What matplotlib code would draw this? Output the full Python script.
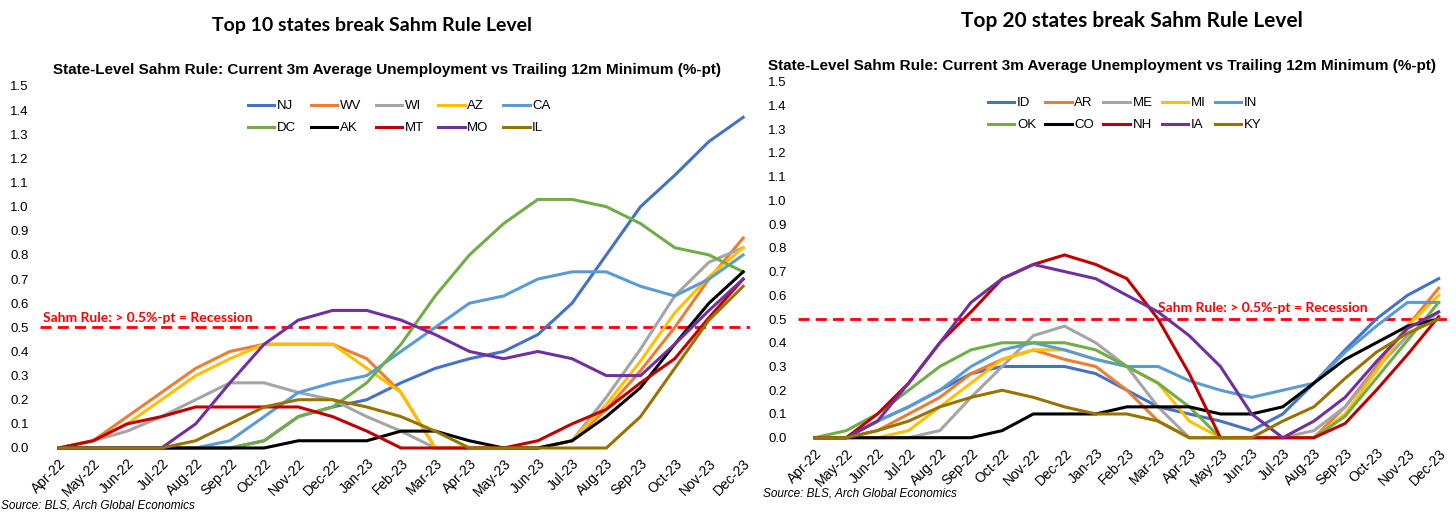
import matplotlib
matplotlib.use("Agg")
import matplotlib.pyplot as plt

# ─────────────────────────────────────────────────────────────────────────────
# Data (%-pt)
# ─────────────────────────────────────────────────────────────────────────────
months = ["Apr-22", "May-22", "Jun-22", "Jul-22", "Aug-22", "Sep-22", "Oct-22",
          "Nov-22", "Dec-22", "Jan-23", "Feb-23", "Mar-23", "Apr-23", "May-23",
          "Jun-23", "Jul-23", "Aug-23", "Sep-23", "Oct-23", "Nov-23", "Dec-23"]
yticks = [0.0, 0.1, 0.2, 0.3, 0.4, 0.5, 0.6, 0.7, 0.8, 0.9, 1.0, 1.1, 1.2, 1.3, 1.4, 1.5]
sahm_level = 0.5

# Top 10 states
nj = [0, 0, 0, 0, 0, 0, 0.03, 0.13, 0.17, 0.20, 0.27, 0.33, 0.37, 0.40, 0.47, 0.60, 0.80, 1.00, 1.13, 1.27, 1.37]
wv = [0, 0.03, 0.13, 0.23, 0.33, 0.40, 0.43, 0.43, 0.43, 0.37, 0.23, 0, 0, 0, 0, 0.03, 0.16, 0.32, 0.50, 0.70, 0.87]
wi = [0, 0.03, 0.07, 0.13, 0.20, 0.27, 0.27, 0.23, 0.20, 0.13, 0.07, 0, 0, 0, 0, 0.03, 0.21, 0.41, 0.63, 0.77, 0.83]
az = [0, 0.03, 0.10, 0.20, 0.30, 0.37, 0.43, 0.43, 0.43, 0.33, 0.23, 0, 0, 0, 0, 0.03, 0.18, 0.36, 0.56, 0.71, 0.83]
ca = [0, 0, 0, 0, 0, 0.03, 0.13, 0.23, 0.27, 0.30, 0.40, 0.50, 0.60, 0.63, 0.70, 0.73, 0.73, 0.67, 0.63, 0.70, 0.80]
dc = [0, 0, 0, 0, 0, 0, 0.03, 0.13, 0.17, 0.27, 0.43, 0.63, 0.80, 0.93, 1.03, 1.03, 1.00, 0.93, 0.83, 0.80, 0.73]
ak = [0, 0, 0, 0, 0, 0, 0, 0.03, 0.03, 0.03, 0.07, 0.07, 0.03, 0, 0, 0.03, 0.13, 0.25, 0.43, 0.60, 0.73]
mt = [0, 0.03, 0.10, 0.13, 0.17, 0.17, 0.17, 0.17, 0.13, 0.07, 0, 0, 0, 0, 0.03, 0.10, 0.16, 0.27, 0.37, 0.54, 0.70]
mo = [0, 0, 0, 0, 0.10, 0.27, 0.43, 0.53, 0.57, 0.57, 0.53, 0.47, 0.40, 0.37, 0.40, 0.37, 0.30, 0.30, 0.43, 0.57, 0.70]
il = [0, 0, 0, 0, 0.03, 0.10, 0.17, 0.20, 0.20, 0.17, 0.13, 0.07, 0, 0, 0, 0, 0, 0.13, 0.33, 0.53, 0.67]

# Top 20 states (next ten)
id_ = [0, 0, 0.07, 0.13, 0.20, 0.27, 0.30, 0.30, 0.30, 0.27, 0.20, 0.13, 0.10, 0.07, 0.03, 0.10, 0.23, 0.37, 0.50, 0.60, 0.67]
ar = [0, 0, 0.03, 0.10, 0.17, 0.27, 0.33, 0.37, 0.33, 0.30, 0.20, 0.07, 0, 0, 0, 0, 0, 0.13, 0.30, 0.47, 0.63]
me = [0, 0, 0, 0, 0.03, 0.17, 0.30, 0.43, 0.47, 0.40, 0.30, 0.13, 0, 0, 0, 0, 0.03, 0.13, 0.29, 0.43, 0.53]
mi = [0, 0, 0, 0.03, 0.13, 0.23, 0.33, 0.37, 0.37, 0.33, 0.30, 0.23, 0.07, 0, 0, 0, 0, 0.10, 0.28, 0.47, 0.60]
in_ = [0, 0, 0.07, 0.13, 0.20, 0.30, 0.37, 0.40, 0.37, 0.33, 0.30, 0.30, 0.24, 0.20, 0.17, 0.20, 0.23, 0.36, 0.47, 0.57, 0.57]
ok = [0, 0.03, 0.10, 0.20, 0.30, 0.37, 0.40, 0.40, 0.40, 0.37, 0.30, 0.23, 0.13, 0, 0, 0, 0, 0.09, 0.25, 0.41, 0.57]
co = [0, 0, 0, 0, 0, 0, 0.03, 0.10, 0.10, 0.10, 0.13, 0.13, 0.13, 0.10, 0.10, 0.13, 0.23, 0.33, 0.40, 0.47, 0.50]
nh = [0, 0, 0.10, 0.23, 0.40, 0.53, 0.67, 0.73, 0.77, 0.73, 0.67, 0.50, 0.27, 0, 0, 0, 0, 0.06, 0.20, 0.35, 0.51]
ia = [0, 0, 0.07, 0.23, 0.40, 0.57, 0.67, 0.73, 0.70, 0.67, 0.60, 0.53, 0.43, 0.30, 0.10, 0, 0.07, 0.17, 0.32, 0.46, 0.53]
ky = [0, 0, 0.03, 0.07, 0.13, 0.17, 0.20, 0.17, 0.13, 0.10, 0.10, 0.07, 0, 0, 0, 0.07, 0.13, 0.25, 0.36, 0.44, 0.50]

left_states = ["NJ", "WV", "WI", "AZ", "CA", "DC", "AK", "MT", "MO", "IL"]
left_values = [nj, wv, wi, az, ca, dc, ak, mt, mo, il]
right_states = ["ID", "AR", "ME", "MI", "IN", "OK", "CO", "NH", "IA", "KY"]
right_values = [id_, ar, me, mi, in_, ok, co, nh, ia, ky]

# Excel office palette, same slot order on both charts
colors = ["#4472C4", "#ED7D31", "#A5A5A5", "#FFC000", "#5B9BD5",
          "#70AD47", "#000000", "#C00000", "#7030A0", "#997300"]

# ─────────────────────────────────────────────────────────────────────────────
# Style
# ─────────────────────────────────────────────────────────────────────────────
NARROW = ["Liberation Sans Narrow", "Liberation Sans", "DejaVu Sans"]
TITLE_FONT = ["Lato", "DejaVu Sans"]
W, H = 1456, 520

fig = plt.figure(figsize=(W / 100, H / 100), dpi=100)


def px_axes(x0, x1, y_top, y_bottom):
    """Axes rectangle from pixel coordinates of the reference."""
    return fig.add_axes([x0 / W, 1 - y_bottom / H, (x1 - x0) / W, (y_bottom - y_top) / H])


def draw_panel(ax, states, values, xlim, legend_anchor, colspacing, text_xy):
    x = list(range(len(months)))
    for name, vals, col in zip(states, values, colors):
        ax.plot(x, vals, color=col, lw=2.2, label=name, clip_on=False,
                solid_joinstyle="miter")
    ax.axhline(sahm_level, color="#FF0000", lw=2.0, ls=(0, (4, 2.2)), zorder=0)
    ax.text(*text_xy, "Sahm Rule: > 0.5%-pt = Recession", color="#FF0000",
            fontsize=10, fontweight="bold", family=TITLE_FONT,
            transform=ax.transData, va="bottom")

    ax.set_xlim(*xlim)
    ax.set_ylim(0, 1.5)
    ax.set_yticks(yticks)
    ax.set_yticklabels([f"{v:.1f}" for v in yticks], family=NARROW, fontsize=9.5)
    ax.set_xticks(x)
    ax.set_xticklabels(months, rotation=45, ha="right", rotation_mode="anchor",
                       family=NARROW, fontsize=10)
    ax.tick_params(length=0, pad=8)
    ax.tick_params(axis="x", pad=6)
    for s in ax.spines.values():
        s.set_visible(False)

    # legend row-wise: reorder for matplotlib's column-major filling
    h, l = ax.get_legend_handles_labels()
    order = [0, 5, 1, 6, 2, 7, 3, 8, 4, 9]
    ax.legend([h[i] for i in order], [l[i] for i in order], ncol=5,
              loc="upper left", bbox_to_anchor=legend_anchor,
              bbox_transform=fig.transFigure, frameon=False,
              prop={"family": NARROW, "size": 9.5}, handlelength=2.0,
              handletextpad=0.2, columnspacing=colspacing, labelspacing=0.75,
              borderaxespad=0, borderpad=0)


ax1 = px_axes(40, 750, 86, 448)
draw_panel(ax1, left_states, left_values, (-0.55, 20.2),
           (248 / W, 1 - 100 / H), 1.1, (-0.45, 0.515))

ax2 = px_axes(798, 1448, 81.7, 437.7)
draw_panel(ax2, right_states, right_values, (-0.55, 20.3),
           (988 / W, 1 - 97 / H), 0.7, (11.0, 0.52))

# Titles
fig.text(372 / W, 1 - 25 / H, "Top 10 states break Sahm Rule Level", ha="center",
         va="center", fontsize=14, fontweight="bold", family=TITLE_FONT)
fig.text(1132 / W, 1 - 21 / H, "Top 20 states break Sahm Rule Level", ha="center",
         va="center", fontsize=15, fontweight="bold", family=TITLE_FONT)
sub = "State-Level Sahm Rule: Current 3m Average Unemployment vs Trailing 12m Minimum (%-pt)"
fig.text(387 / W, 1 - 70 / H, sub, ha="center", va="center", fontsize=11,
         fontweight="bold", family=NARROW)
fig.text(1102 / W, 1 - 66 / H, sub, ha="center", va="center", fontsize=11,
         fontweight="bold", family=NARROW)

# Source notes
fig.text(1 / W, 1 - 505 / H, "Source: BLS, Arch Global Economics", ha="left",
         va="center", fontsize=8.5, style="italic", family=NARROW)
fig.text(763 / W, 1 - 493 / H, "Source: BLS, Arch Global Economics", ha="left",
         va="center", fontsize=8.5, style="italic", family=NARROW)

fig.savefig("out.png", dpi=100, facecolor="white")
